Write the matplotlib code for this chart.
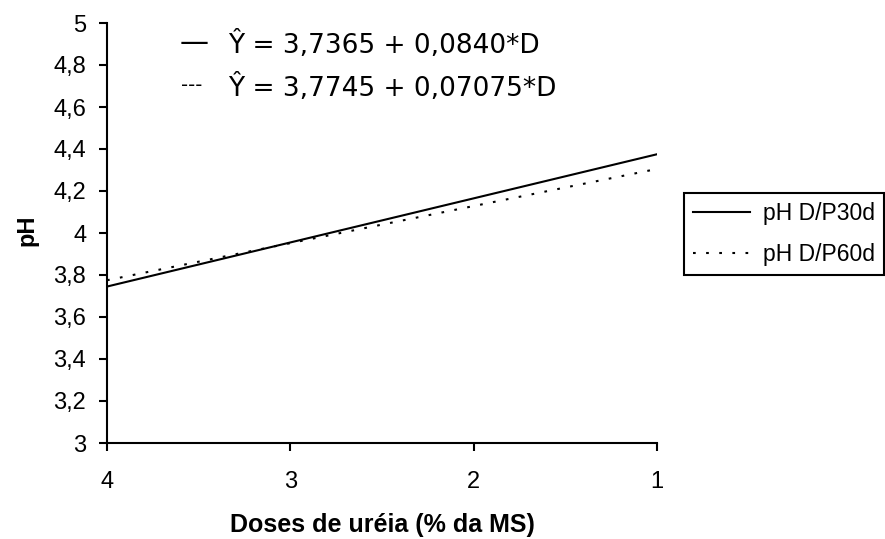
import numpy as np
import matplotlib.pyplot as plt
from matplotlib.lines import Line2D

# doses de ureia (eixo invertido) e pH estimado
doses = [4, 1]
ph_30d = [3.745, 4.375]
ph_60d = [3.775, 4.305]
y_ticks = [3, 3.2, 3.4, 3.6, 3.8, 4, 4.2, 4.4, 4.6, 4.8, 5]
y_labels = ["3", "3,2", "3,4", "3,6", "3,8", "4", "4,2", "4,4", "4,6", "4,8", "5"]
x_ticks = [4, 3, 2, 1]
eq_30d = "Ŷ = 3,7365 + 0,0840*D"
eq_60d = "Ŷ = 3,7745 + 0,07075*D"

plt.rcParams['font.family'] = ['Liberation Sans', 'DejaVu Sans']

dotted = (0, (1.3, 5))

fig = plt.figure(figsize=(8.85, 5.39), dpi=100)
ax = fig.add_axes([107 / 885, 1 - 443 / 539, 550 / 885, 420 / 539])

ax.plot(doses, ph_30d, color='black', linewidth=1.5, label='pH D/P30d')
ax.plot(doses, ph_60d, color='black', linewidth=1.5, linestyle=dotted, label='pH D/P60d')

ax.set_xlim(4, 1)
ax.set_ylim(3, 5)
ax.set_yticks(y_ticks)
ax.set_yticklabels(y_labels)
ax.set_xticks(x_ticks)
ax.set_xticklabels([str(x) for x in x_ticks])
ax.tick_params(direction='out', length=6, width=1.5, labelsize=17, pad=9)
ax.tick_params(axis='x', pad=14)
for s in ['top', 'right']:
    ax.spines[s].set_visible(False)
for s in ['left', 'bottom']:
    ax.spines[s].set_linewidth(1.5)

ax.set_xlabel("Doses de uréia (% da MS)", fontsize=18, fontweight='bold', va='center')
ax.xaxis.set_label_coords(0.5, -0.195)
ax.set_ylabel("pH", fontsize=17, fontweight='bold', va='center')
ax.yaxis.set_label_coords(-0.145, 0.507)

# equacoes
fig.text(180 / 885, 1 - 43 / 539, "—", fontsize=21, va='center', family='DejaVu Sans')
fig.text(181 / 885, 1 - 86 / 539, "---", fontsize=14, va='center', family='DejaVu Sans')
fig.text(228 / 885, 1 - 45 / 539, eq_30d, fontsize=19, va='center', family='DejaVu Sans')
fig.text(228 / 885, 1 - 88 / 539, eq_60d, fontsize=19, va='center', family='DejaVu Sans')

handles = [Line2D([], [], color='black', linewidth=1.5),
           Line2D([], [], color='black', linewidth=1.5, linestyle=dotted)]
leg = fig.legend(handles, ['pH D/P30d', 'pH D/P60d'], loc='upper left',
                 bbox_to_anchor=(684 / 885, 1 - 193 / 539), fontsize=16.5,
                 frameon=True, fancybox=False, edgecolor='black', framealpha=1,
                 handlelength=2.5, handletextpad=0.55, borderpad=0.4, labelspacing=0.79,
                 borderaxespad=0)
leg.get_frame().set_linewidth(1.5)

fig.savefig('out.png', dpi=100)
